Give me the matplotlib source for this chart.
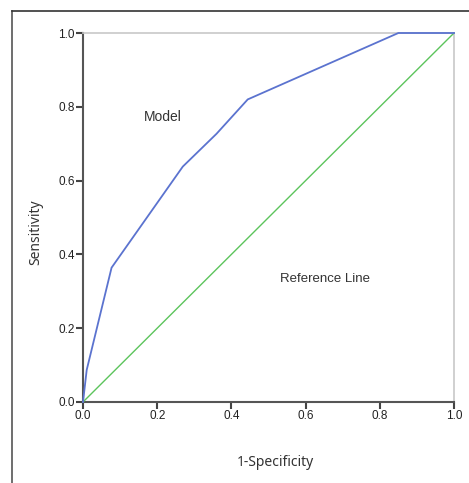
import matplotlib
matplotlib.use("Agg")
import matplotlib.pyplot as plt
from matplotlib.lines import Line2D

fpr = [0.0, 0.01, 0.077, 0.269, 0.36, 0.444, 0.85, 1.0]
tpr = [0.0, 0.087, 0.364, 0.638, 0.727, 0.82, 1.0, 1.0]
ref_x = [0.0, 1.0]
ref_y = [0.0, 1.0]
ticks = [0.0, 0.2, 0.4, 0.6, 0.8, 1.0]
tick_labels = ["0.0", "0.2", "0.4", "0.6", "0.8", "1.0"]

W, H = 469, 483
fig = plt.figure(figsize=(W / 100, H / 100), dpi=100)
ax = fig.add_axes([83 / W, 1 - 402 / H, (454 - 83) / W, (402 - 33) / H])

ax.plot(fpr, tpr, color="#5b73cf", lw=1.3, solid_joinstyle="miter", clip_on=False, zorder=5)
ax.plot(ref_x, ref_y, color="#5cc45c", lw=1.0, clip_on=False, zorder=4)

ax.set_xlim(0, 1)
ax.set_ylim(0, 1)
ax.set_xticks(ticks)
ax.set_yticks(ticks)
ax.set_xticklabels(tick_labels, fontsize=8.5, family="Liberation Sans", color="#222222")
ax.set_yticklabels(tick_labels, fontsize=8.5, family="Liberation Sans", color="#222222")
ax.tick_params(direction="out", length=5, width=1.5, color="#444444", pad=1)

for s in ["left", "bottom"]:
    ax.spines[s].set_color("#555555")
    ax.spines[s].set_linewidth(1.5)
for s in ["top", "right"]:
    ax.spines[s].set_color("#c8c8c8")
    ax.spines[s].set_linewidth(1.2)

ax.text(0.216, 0.772, "Model", ha="center", va="center", fontsize=10,
        family="Liberation Sans", color="#333333")
ax.text(0.652, 0.333, "Reference Line", ha="center", va="center", fontsize=9.5,
        family="Liberation Sans", color="#333333")

fig.text(36 / W, 1 - 232 / H, "Sensitivity", rotation=90, ha="center", va="center",
         fontsize=10, family="Noto Sans", color="#333333")
fig.text(275 / W, 1 - 463 / H, "1-Specificity", ha="center", va="center",
         fontsize=10, family="Noto Sans", color="#333333")

# outer frame (left and top edges)
fig.add_artist(Line2D([12 / W, 12 / W], [0, 1 - 11 / H], color="#555555", lw=1.2,
                      transform=fig.transFigure))
fig.add_artist(Line2D([12 / W, 1], [1 - 11 / H, 1 - 11 / H], color="#333333", lw=1.2,
                      transform=fig.transFigure))

fig.savefig("out.png", dpi=100)
